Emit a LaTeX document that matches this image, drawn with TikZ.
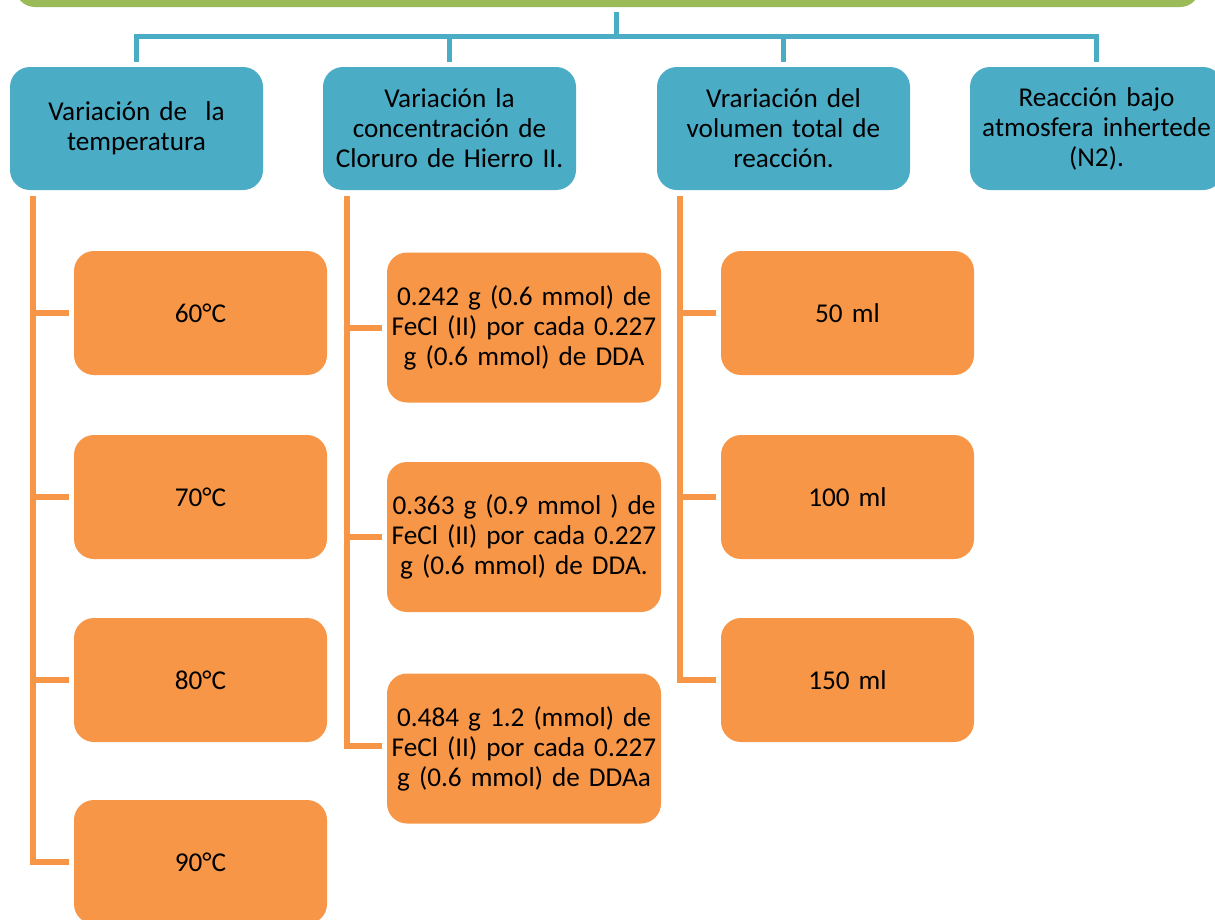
\documentclass[tikz,border=0pt]{standalone}
\usepackage{fontspec}
\setmainfont{Carlito}[WordSpace=0.7]
\usetikzlibrary{calc}
\definecolor{cblue}{HTML}{4BACC6}
\definecolor{corange}{HTML}{F79646}
\definecolor{cgreen}{HTML}{9BBB59}
\begin{document}
\begin{tikzpicture}[x=1pt,y=-1pt,
  base/.style={rounded corners=20pt, inner sep=0pt, align=center,
    font=\fontsize{27.2}{30}\selectfont, text=black},
  head/.style={base, fill=cblue, minimum width=253pt, minimum height=123pt, text width=251pt},
  leaf/.style={base, fill=corange, minimum width=253pt, minimum height=124pt, text width=251pt},
  wide/.style={base, fill=corange, minimum width=274pt, minimum height=150pt, text width=272pt},
  bline/.style={draw=cblue, line width=5pt},
  oline/.style={draw=corange, line width=6pt}]
\useasboundingbox (0,0) rectangle (1215,919);
\clip (0,0) rectangle (1215,919);
% root
\node[base, fill=cgreen, minimum width=1185pt, minimum height=100pt] (root) at (607.5,-43) {};
% headers
\node[head] (b1) at (136.5,128.5) {Variación de\ \ la\\temperatura};
\node[head] (b2) at (449.5,128.5) {Variación la\\concentración de\\Cloruro de Hierro II.};
\node[head] (b3) at (783.5,128.5) {Vrariación del\\volumen total de\\reacción.};
\node[head] (b4) at (1096.5,128.5) {Reacción bajo\\atmosfera inhertede\\(N2).};
% tree
\coordinate (top) at (616,12);
\coordinate (bar) at (616,36.5);
\draw[bline] (top) -- (bar);
\draw[bline] ($(b1.north)+(0,-5)$) |- (bar);
\draw[bline] ($(b4.north)+(0,-5)$) |- (bar);
\draw[bline] ($(b2.north)+(0,-5)$) -- ($(b2.north)+(0,-31)$);
\draw[bline] ($(b3.north)+(0,-5)$) -- ($(b3.north)+(0,-31)$);
% column 1
\node[leaf] (t1) at (200.5,313) {60°C};
\node[leaf] (t2) at (200.5,497) {70°C};
\node[leaf] (t3) at (200.5,680) {80°C};
\node[leaf] (t4) at (200.5,862) {90°C};
% column 2
\node[wide] (c1) at (524,327.5) {0.242 g (0.6 mmol) de\\FeCl (II) por cada 0.227\\g (0.6 mmol) de DDA};
\node[wide] (c2) at (524,537) {0.363 g (0.9 mmol ) de\\FeCl (II) por cada 0.227\\g (0.6 mmol) de DDA.};
\node[wide] (c3) at (524,748.5) {0.484 g 1.2 (mmol) de\\FeCl (II) por cada 0.227\\g (0.6 mmol) de DDAa};
% column 3
\node[leaf] (v1) at (847.5,313) {50 ml};
\node[leaf] (v2) at (847.5,497) {100 ml};
\node[leaf] (v3) at (847.5,680) {150 ml};
% orange connectors
\coordinate (s1) at (33,196);
\coordinate (s2) at (347,196);
\coordinate (s3) at (680,196);
\draw[oline, shorten >=5pt] (s1) |- (t4.west);
\foreach \n in {t1,t2,t3} \draw[oline, shorten >=5pt] (s1 |- \n.west) -- (\n.west);
\draw[oline, shorten >=5pt] (s2) |- ($(c3.west)+(0,-2.5)$);
\draw[oline, shorten >=5pt] (s2 |- c1.west) -- (c1.west);
\draw[oline, shorten >=5pt] (s2 |- c2.west) -- (c2.west);
\draw[oline, shorten >=5pt] (s3) |- (v3.west);
\foreach \n in {v1,v2} \draw[oline, shorten >=5pt] (s3 |- \n.west) -- (\n.west);
\end{tikzpicture}
\end{document}
